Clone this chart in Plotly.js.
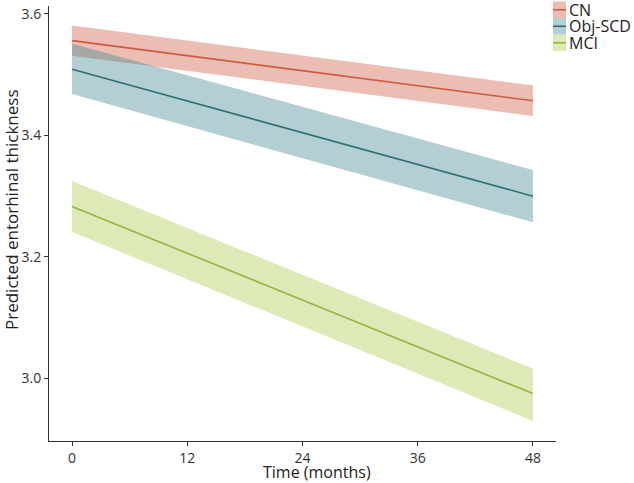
<!DOCTYPE html>
<html>
<head>
<meta charset="utf-8">
<script src="https://cdn.plot.ly/plotly-3.0.1.min.js"></script>
<style>html,body{margin:0;padding:0;background:#fff;}#chart{width:634px;height:483px;}</style>
</head>
<body>
<div id="chart"></div>
<script>
// Data (predicted values at months 0 and 48)
const months = [0, 48];
const groups = ["CN", "Obj-SCD", "MCI"];
const cnFit = [3.556, 3.457];
const cnLower = [3.531, 3.432];
const cnUpper = [3.581, 3.482];
const scdFit = [3.509, 3.300];
const scdLower = [3.468, 3.257];
const scdUpper = [3.551, 3.343];
const mciFit = [3.283, 2.975];
const mciLower = [3.241, 2.930];
const mciUpper = [3.325, 3.016];
const xTicks = [0, 12, 24, 36, 48];
const yTicks = [3.0, 3.2, 3.4, 3.6];
const yTickText = ["3.0", "3.2", "3.4", "3.6"];
const xTitle = "Time (months)";
const yTitle = "Predicted entorhinal thickness";

const lineColors = ["#cf5b3e", "#2f6f75", "#93b83f"];
const fillColors = ["rgba(205,90,65,0.4)", "rgba(65,135,145,0.4)", "rgba(170,200,75,0.4)"];

const fits = [cnFit, scdFit, mciFit];
const lowers = [cnLower, scdLower, mciLower];
const uppers = [cnUpper, scdUpper, mciUpper];

// plot area in pixels
const M = {l: 49, r: 78, t: 6, b: 42};
const W = 634, H = 483;
const pw = W - M.l - M.r, ph = H - M.t - M.b;
const px2x = p => (p - M.l) / pw;
const px2y = p => (H - M.b - p) / ph;

const traces = [];
for (let i = 0; i < groups.length; i++) {
  const xs = months.concat(months.slice().reverse());
  const ys = lowers[i].concat(uppers[i].slice().reverse());
  traces.push({
    x: xs, y: ys, type: "scatter", mode: "lines", fill: "toself",
    fillcolor: fillColors[i], line: {width: 0}, hoverinfo: "skip", showlegend: false
  });
}
for (let i = 0; i < groups.length; i++) {
  traces.push({
    x: months, y: fits[i], type: "scatter", mode: "lines", name: groups[i],
    line: {color: lineColors[i], width: 1.6}, showlegend: false
  });
}

const font = "Open Sans, Noto Sans, sans-serif";

// legend drawn as keys + labels at the top right
const shapes = [];
const annotations = [];
const rowTop = [1.5, 18, 34.5];
const rowH = 16.5;
for (let i = 0; i < groups.length; i++) {
  shapes.push({type: "rect", xref: "paper", yref: "paper",
    x0: px2x(553), x1: px2x(566), y0: px2y(rowTop[i] + rowH), y1: px2y(rowTop[i]),
    fillcolor: fillColors[i], line: {width: 0}, layer: "above"});
  shapes.push({type: "line", xref: "paper", yref: "paper",
    x0: px2x(553), x1: px2x(566), y0: px2y(rowTop[i] + rowH / 2), y1: px2y(rowTop[i] + rowH / 2),
    line: {color: lineColors[i], width: 1.6}, layer: "above"});
  annotations.push({text: groups[i], xref: "paper", yref: "paper",
    x: px2x(567), y: px2y(rowTop[i] + rowH / 2), xanchor: "left", yanchor: "middle",
    showarrow: false, font: {family: font, size: 16, color: "#222"}});
}
// axis titles
annotations.push({text: xTitle, xref: "paper", yref: "paper", x: px2x(317), y: px2y(472),
  xanchor: "center", yanchor: "middle", showarrow: false,
  font: {family: font, size: 16, color: "#222"}});
annotations.push({text: yTitle, xref: "paper", yref: "paper", x: px2x(11), y: px2y(210),
  xanchor: "center", yanchor: "middle", textangle: -90, showarrow: false,
  font: {family: font, size: 17, color: "#222"}});

const layout = {
  width: W, height: H,
  margin: {l: M.l, r: M.r, t: M.t, b: M.b, pad: 0, autoexpand: false},
  paper_bgcolor: "#fff", plot_bgcolor: "#fff",
  font: {family: font, color: "#333", size: 13},
  showlegend: false,
  shapes: shapes,
  annotations: annotations,
  xaxis: {
    range: [-2.4, 50.4], tickvals: xTicks, ticktext: xTicks.map(String),
    showgrid: false, zeroline: false, showline: true, linecolor: "#333", linewidth: 1,
    ticks: "outside", ticklen: 4, tickcolor: "#333", tickwidth: 1, automargin: false,
    tickfont: {family: font, size: 14, color: "#333"}
  },
  yaxis: {
    range: [2.897, 3.613], tickvals: yTicks, ticktext: yTickText,
    showgrid: false, zeroline: false, showline: true, linecolor: "#333", linewidth: 1,
    ticks: "outside", ticklen: 4, tickcolor: "#333", tickwidth: 1, automargin: false,
    tickfont: {family: font, size: 14, color: "#333"}
  }
};

Plotly.newPlot("chart", traces, layout, {displayModeBar: false, staticPlot: true});
</script>
</body>
</html>
